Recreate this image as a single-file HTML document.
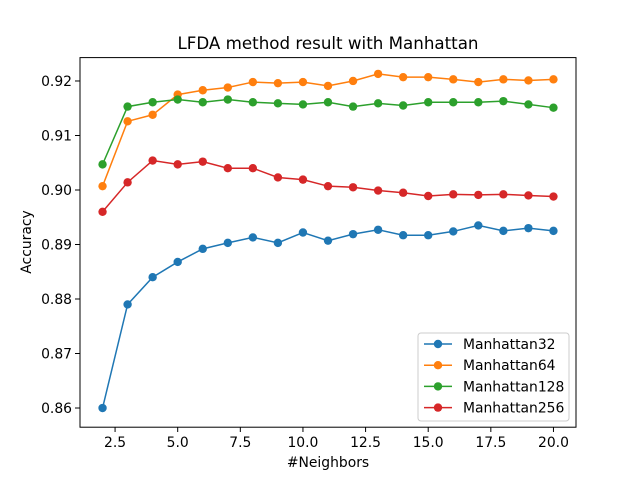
<!DOCTYPE html>
<html><head><meta charset="utf-8"><style>
body{margin:0;background:#fff;}
svg text{font-family:"DejaVu Sans","Liberation Sans",sans-serif;}
</style></head><body>
<svg width="640" height="480" viewBox="0 0 640 480">
<rect width="640" height="480" fill="#fff"/>
<text x="328" y="49" font-size="16.7" text-anchor="middle">LFDA method result with Manhattan</text>
<g id="plot"></g>
<rect x="80" y="57.6" width="496" height="369.6" fill="none" stroke="#000" stroke-width="1"/>
<text x="328" y="467" font-size="13.9" text-anchor="middle">#Neighbors</text>
<text transform="translate(31,242) rotate(-90)" font-size="13.9" text-anchor="middle">Accuracy</text>
<g id="legend"></g>
</svg>
<script>
const xs=[2,3,4,5,6,7,8,9,10,11,12,13,14,15,16,17,18,19,20];
const s32=[0.860,0.879,0.884,0.8868,0.8892,0.8903,0.8913,0.8903,0.8922,0.8907,0.8919,0.8927,0.8917,0.8917,0.8924,0.8935,0.8925,0.8930,0.8925];
const s64=[0.9007,0.9126,0.9138,0.9175,0.9183,0.9188,0.9198,0.9196,0.9198,0.9191,0.9200,0.9213,0.9207,0.9207,0.9203,0.9198,0.9203,0.9201,0.9203];
const s128=[0.9047,0.9153,0.9161,0.9166,0.9161,0.9166,0.9161,0.9159,0.9157,0.9161,0.9153,0.9159,0.9155,0.9161,0.9161,0.9161,0.9163,0.9157,0.9151];
const s256=[0.8960,0.9014,0.9054,0.9047,0.9052,0.9040,0.9040,0.9023,0.9019,0.9007,0.9005,0.8999,0.8995,0.8989,0.8992,0.8991,0.8992,0.8990,0.8988];
const seriesNames=["Manhattan32","Manhattan64","Manhattan128","Manhattan256"];
const xTicks=[2.5,5.0,7.5,10.0,12.5,15.0,17.5,20.0];
const yTicks=[0.86,0.87,0.88,0.89,0.90,0.91,0.92];
const colors=["#1f77b4","#ff7f0e","#2ca02c","#d62728"];
const NS="http://www.w3.org/2000/svg";
const xMin=1.1,xMax=20.9,yMin=0.85648,yMax=0.92429;
const X=v=>80+(v-xMin)/(xMax-xMin)*496;
const Y=v=>427.2-(v-yMin)/(yMax-yMin)*369.6;
const plot=document.getElementById('plot');
function mk(t,a,p){const e=document.createElementNS(NS,t);for(const k in a)e.setAttribute(k,a[k]);(p||plot).appendChild(e);return e;}
xTicks.forEach(t=>{
 const g=mk('g',{});
 
 
 mk('line',{x1:X(t),x2:X(t),y1:427.2,y2:432,stroke:'#000','stroke-width':1},g);
 const tx=mk('text',{x:X(t),y:447,'font-size':13.9,'text-anchor':'middle'},g);tx.textContent=t.toFixed(1);
});
yTicks.forEach(t=>{
 const g=mk('g',{});
 
 
 mk('line',{x1:75,x2:80,y1:Y(t),y2:Y(t),stroke:'#000','stroke-width':1},g);
 const tx=mk('text',{x:72,y:Y(t)+5,'font-size':13.9,'text-anchor':'end'},g);tx.textContent=t.toFixed(2);
});
[s32,s64,s128,s256].forEach((s,i)=>{
 const g=mk('g',{});
 
 
 mk('polyline',{points:s.map((v,j)=>X(xs[j])+','+Y(v)).join(' '),fill:'none',stroke:colors[i],'stroke-width':1.5},g);
 s.forEach((v,j)=>{const c=mk('circle',{cx:X(xs[j]),cy:Y(v),r:4.2,fill:colors[i]},g);
  
  });
});
const lg=document.getElementById('legend');
mk('rect',{x:418,y:333,width:151,height:88,rx:3,fill:'#fff',stroke:'#ccc','stroke-width':1},lg);
seriesNames.forEach((n,i)=>{
 const y=344+i*21.2;
 const g=mk('g',{},lg);
 
 
 mk('line',{x1:424,x2:452,y1:y,y2:y,stroke:colors[i],'stroke-width':1.5},g);
 mk('circle',{cx:438,cy:y,r:4.2,fill:colors[i]},g);
 const t=mk('text',{x:463,y:y+5,'font-size':13.9},g);t.textContent=n;
});
</script>
</body></html>
